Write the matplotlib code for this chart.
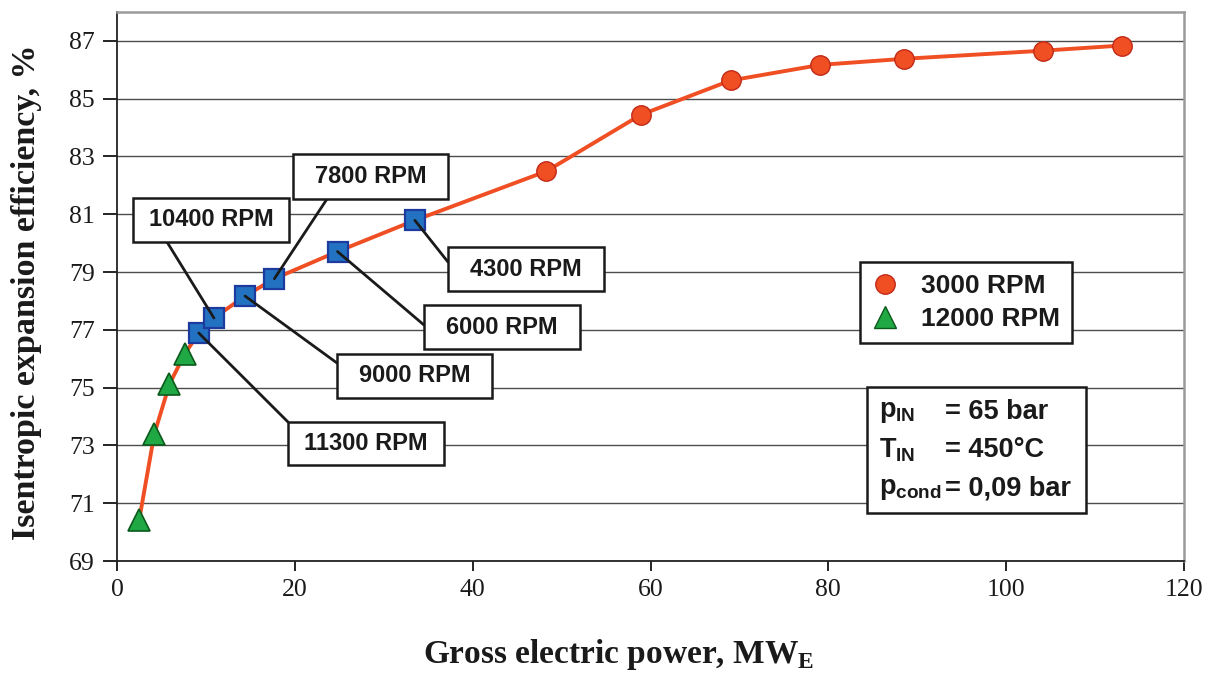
import matplotlib
matplotlib.use('Agg')
import matplotlib.pyplot as plt
from matplotlib.lines import Line2D
from matplotlib.patches import Rectangle

# ----------------------------
# data
# ----------------------------
# 12000 RPM machine (green triangles)
tri_x = [2.5, 4.2, 5.9, 7.6]
tri_y = [70.43, 73.40, 75.12, 76.16]
# intermediate speeds (blue squares)
sq_x = [9.2, 10.9, 14.4, 17.7, 24.8, 33.5]
sq_y = [76.89, 77.41, 78.17, 78.77, 79.71, 80.79]
sq_rpm = ['11300 RPM', '10400 RPM', '9000 RPM', '7800 RPM', '6000 RPM', '4300 RPM']
# 3000 RPM machine (red circles)
circ_x = [48.3, 58.9, 69.0, 79.1, 88.5, 104.1, 113.0]
circ_y = [82.49, 84.44, 85.63, 86.17, 86.38, 86.66, 86.84]

x_ticks = [0, 20, 40, 60, 80, 100, 120]
y_ticks = [69, 71, 73, 75, 77, 79, 81, 83, 85, 87]
legend_labels = ['3000 RPM', '12000 RPM']

# label boxes in picture pixels: left, top, right, bottom, and where the leader meets the box
label_boxes = [
    (288, 422, 444, 465, 288, 422),
    (133, 198, 289, 242, 167, 242),
    (337, 354, 492, 398, 337, 363),
    (293, 154, 448, 199, 327, 199),
    (424, 305, 580, 349, 424, 325),
    (448, 247, 604, 291, 448, 262),
]

W, H = 1214, 673

def fx(px):
    return px / W

def fy(py):
    return 1 - py / H

plt.rcParams['mathtext.fontset'] = 'custom'
plt.rcParams['mathtext.rm'] = 'Liberation Serif:bold'
plt.rcParams['mathtext.it'] = 'Liberation Sans:bold'
plt.rcParams['mathtext.bf'] = 'Liberation Sans:bold'

fig = plt.figure(figsize=(W / 100, H / 100), dpi=100)
ax = fig.add_axes([fx(117), fy(561), fx(1184) - fx(117), fy(12) - fy(561)])

red = '#F04E23'
ink = '#1a1a1a'
# one line through all the points, ordered by power
all_x = tri_x + sq_x + circ_x
all_y = tri_y + sq_y + circ_y
ax.plot(all_x, all_y, color=red, lw=2.8, zorder=3)
ax.plot(circ_x, circ_y, 'o', ms=14, mfc=red, mec='#C22A18', mew=1, zorder=4)
ax.plot(sq_x, sq_y, 's', ms=15, mfc='#2372C2', mec='#1D3A9E', mew=1.6, zorder=4)
ax.plot(tri_x, tri_y, '^', ms=16.5, mfc='#20A844', mec='#0B5A1C', mew=1.2, zorder=4)

ax.set_xlim(0, 120)
ax.set_ylim(69, 88)
ax.set_xticks(x_ticks)
ax.set_yticks(y_ticks)
ax.set_xticklabels([str(v) for v in x_ticks], family='Liberation Serif', fontsize=18.5, color=ink)
ax.set_yticklabels([str(v) for v in y_ticks], family='Liberation Serif', fontsize=18.5, color=ink)
ax.tick_params(axis='x', direction='out', length=7, width=1.2, pad=6)
ax.tick_params(axis='y', direction='out', length=10, width=1.2, pad=6)
ax.yaxis.grid(True, color='#4d4d4d', lw=1)
ax.set_axisbelow(True)
for s in ['left', 'bottom']:
    ax.spines[s].set_color('#222222')
    ax.spines[s].set_linewidth(1.3)
for s in ['top', 'right']:
    ax.spines[s].set_color('#9a9a9a')
    ax.spines[s].set_linewidth(1.8)

# axis titles
fig.text(fx(619), fy(655), 'Gross electric power, MW$_\\mathrm{E}$', family='Liberation Serif',
         weight='bold', fontsize=24, ha='center', va='center', color=ink)
fig.text(fx(27), fy(292), 'Isentropic expansion efficiency, %', family='Liberation Serif',
         weight='bold', fontsize=24.5, ha='center', va='center', rotation=90, color=ink)

# RPM label boxes with leader lines
for (l, t, r, b, axp, ayp), xv, yv, txt in zip(label_boxes, sq_x, sq_y, sq_rpm):
    ax.annotate('', xy=(xv, yv), xycoords='data', xytext=(fx(axp), fy(ayp)),
                textcoords='figure fraction',
                arrowprops=dict(arrowstyle='-', color=ink, lw=2, shrinkA=0, shrinkB=0),
                zorder=5)
    ax.add_patch(Rectangle((fx(l), fy(b)), fx(r) - fx(l), fy(t) - fy(b), transform=fig.transFigure,
                           facecolor='white', edgecolor=ink, lw=1.8, clip_on=False, zorder=6))
    ax.text(fx((l + r) / 2), fy((t + b) / 2), txt, transform=fig.transFigure, ha='center', va='center',
            family='Liberation Sans', weight='bold', fontsize=17, color=ink, zorder=7)

# legend
handles = [Line2D([], [], ls='none', marker='o', ms=14, mfc=red, mec='#C22A18'),
           Line2D([], [], ls='none', marker='^', ms=16, mfc='#20A844', mec='#0B5A1C')]
leg = ax.legend(handles, legend_labels, loc='upper left', bbox_to_anchor=(fx(860), fy(262)),
                bbox_transform=fig.transFigure, prop={'family': 'Liberation Sans', 'weight': 'bold', 'size': 19},
                frameon=True, fancybox=False, framealpha=1, edgecolor=ink,
                handlelength=1.0, handletextpad=0.85, borderpad=0.45, labelspacing=0.35, borderaxespad=0)
leg.get_frame().set_linewidth(1.8)
leg.set_zorder(8)
for t in leg.get_texts():
    t.set_color(ink)

# operating conditions box
ax.add_patch(Rectangle((fx(867), fy(513)), fx(1086) - fx(867), fy(387) - fy(513), transform=fig.transFigure,
                       facecolor='white', edgecolor=ink, lw=1.8, clip_on=False, zorder=6))
cond_names = ['$p_{IN}$', '$T_{IN}$', '$p_{cond}$']
cond_values = ['= 65 bar', '= 450°C', '= 0,09 bar']
cond_rows = [412, 450, 489]
for name, val, row in zip(cond_names, cond_values, cond_rows):
    ax.text(fx(879), fy(row), name, transform=fig.transFigure, ha='left', va='center',
            fontsize=19.5, color=ink, zorder=7)
    ax.text(fx(945), fy(row), val, transform=fig.transFigure, ha='left', va='center',
            family='Liberation Sans', weight='bold', fontsize=19.5, color=ink, zorder=7)

plt.savefig('out.png', dpi=100)
